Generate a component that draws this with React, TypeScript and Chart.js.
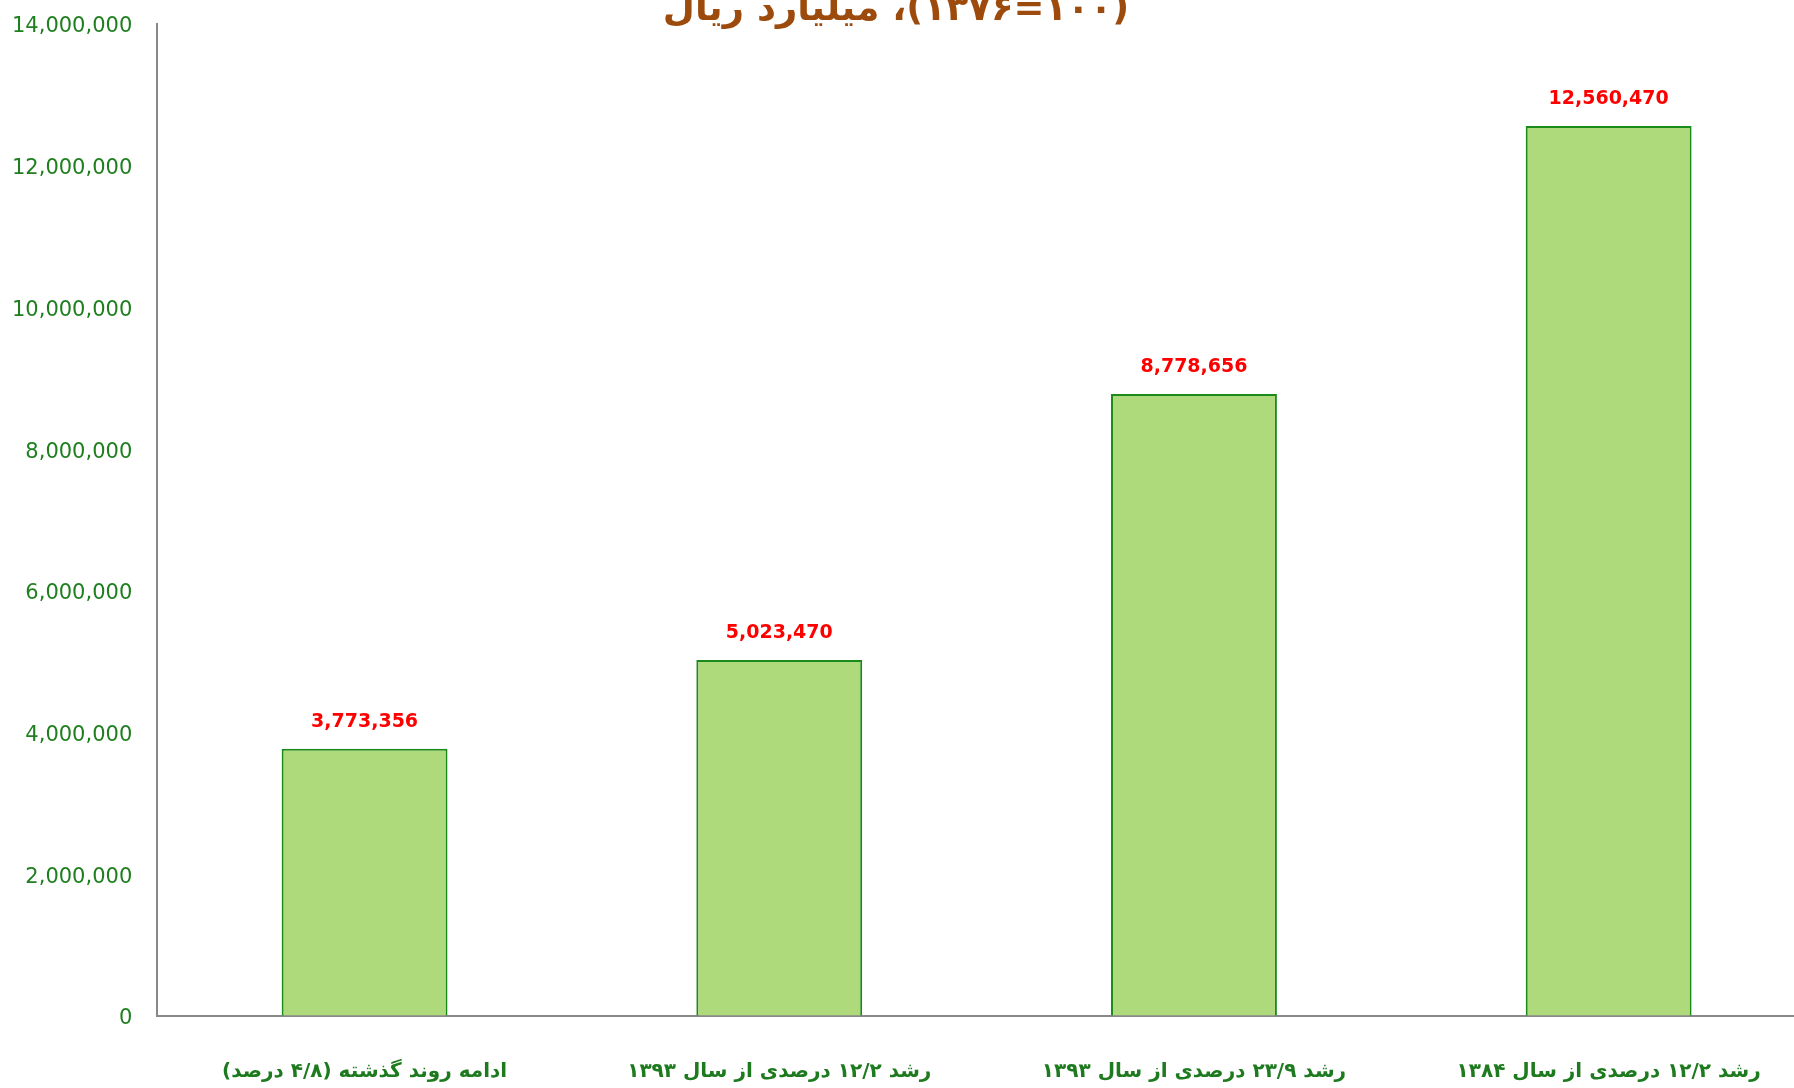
import React, { useEffect, useRef } from 'react';
import { Chart, registerables } from 'chart.js';
Chart.register(...registerables);

const categories = [
  'ادامه روند گذشته (۴/۸ درصد)',
  'رشد ۱۲/۲ درصدی از سال ۱۳۹۳',
  'رشد ۲۳/۹ درصدی از سال ۱۳۹۳',
  'رشد ۱۲/۲ درصدی از سال ۱۳۸۴',
];
const values = [3773356, 5023470, 8778656, 12560470];
const yMax = 14000000;
const yStep = 2000000;
const titleText = '(۱۰۰=۱۳۷۶)، میلیارد ریال';

const fmt = (v: number) => Number(v).toLocaleString('en-US');

const titlePlugin = {
  id: 'cutTitle',
  afterDraw(chart: any) {
    const ctx = chart.ctx;
    ctx.save();
    ctx.font = 'bold 37px "DejaVu Sans"';
    ctx.fillStyle = '#9C4B0C';
    ctx.textAlign = 'center';
    ctx.textBaseline = 'alphabetic';
    ctx.fillText(titleText, 896, 20);
    ctx.restore();
  },
};

const labelPlugin = {
  id: 'valueLabels',
  afterDatasetsDraw(chart: any) {
    const ctx = chart.ctx;
    const meta = chart.getDatasetMeta(0);
    ctx.save();
    ctx.font = 'bold 19px "DejaVu Sans"';
    ctx.fillStyle = '#FF0000';
    ctx.textAlign = 'center';
    ctx.textBaseline = 'middle';
    meta.data.forEach((el: any, i: number) => {
      ctx.fillText(fmt(values[i]), el.x, el.y - 27);
    });
    ctx.restore();
  },
};

export default function App() {
  const ref = useRef<HTMLCanvasElement>(null);
  useEffect(() => {
    const canvas = ref.current!;
    const chart = new Chart(canvas, {
      type: 'bar',
      data: {
        labels: categories,
        datasets: [
          {
            data: values,
            backgroundColor: '#AEDA7C',
            borderColor: '#1A8A1A',
            borderWidth: 2,
            barPercentage: 0.4,
            categoryPercentage: 1,
          },
        ],
      },
      options: {
        animation: false,
        responsive: false,
        maintainAspectRatio: false,
        devicePixelRatio: 1,
        layout: { padding: { top: 24, left: 12, right: 14, bottom: 0 } },
        plugins: {
          legend: { display: false },
          tooltip: { enabled: false },
          title: { display: false },
        },
        scales: {
          x: {
            grid: {
              display: true,
              drawOnChartArea: false,
              drawTicks: true,
              tickLength: 40,
              color: 'rgba(0,0,0,0)',
            },
            border: { color: '#898989', width: 2 },
            ticks: {
              color: '#1E7A1E',
              font: { family: 'DejaVu Sans', size: 20, weight: 'bold' },
              padding: 4,
              maxRotation: 0,
              minRotation: 0,
              autoSkip: false,
            },
          },
          y: {
            min: 0,
            max: yMax,
            grid: {
              display: true,
              drawOnChartArea: false,
              drawTicks: true,
              tickLength: 25,
              color: 'rgba(0,0,0,0)',
            },
            border: { color: '#898989', width: 2 },
            ticks: {
              stepSize: yStep,
              color: '#1F7F1F',
              font: { family: 'DejaVu Sans', size: 21 },
              padding: 0,
              labelOffset: 3,
              callback: (v: any) => fmt(v),
            },
          },
        },
      },
      plugins: [titlePlugin, labelPlugin],
    } as any);
    return () => chart.destroy();
  }, []);
  return (
    <div
      style={{
        position: 'fixed',
        left: 0,
        top: 0,
        width: 1794,
        height: 1088,
        overflow: 'hidden',
        background: '#fff',
      }}
    >
      <canvas ref={ref} width={1830} height={1088} style={{ direction: 'rtl', display: 'block' }} />
    </div>
  );
}
